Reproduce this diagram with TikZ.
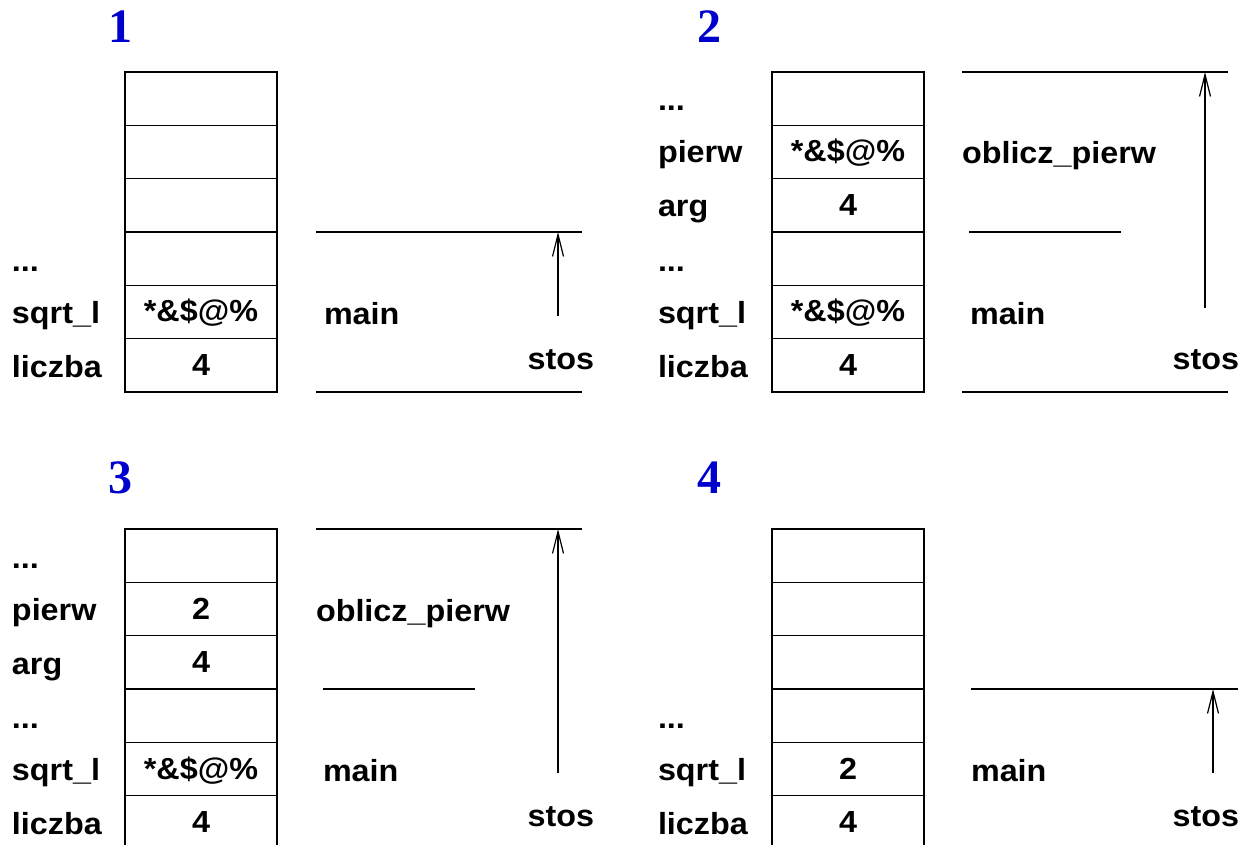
\documentclass[tikz,border=0pt]{standalone}
\usepackage{fontspec}
\setmainfont[FakeStretch=1.06]{Liberation Sans}
\newfontfamily\numfont{Liberation Serif}
\usetikzlibrary{arrows.meta}
\definecolor{numblue}{RGB}{0,0,204}
\tikzset{
  every node/.style={inner sep=0pt, outer sep=0pt},
  txt/.style={font=\fontsize{30.5}{36}\selectfont\bfseries},
  cell/.style={txt, draw, line width=1.2pt, minimum width=152pt, minimum height=53.33pt, text height=20pt, text depth=0pt, anchor=center},
  lbl/.style={txt, anchor=base west},
  rlbl/.style={txt, anchor=base east},
  num/.style={font=\numfont\fontsize{48}{50}\selectfont\bfseries, text=numblue, anchor=base},
  hline/.style={line width=1.2pt},
  sp/.style={line width=1.2pt, -{Straight Barb[length=22pt,width=11pt,line width=1.2pt]}}
}
\begin{document}
\begin{tikzpicture}[x=1pt,y=-1pt]
\useasboundingbox (0,0) rectangle (1242,845);
\clip (0,0) rectangle (1242,845);
% ---------- Panel 1 ----------
\node[num] (n1) at (120,43) {1};
\foreach \i/\v in {1/{},2/{},3/{},4/{},5/{*\&\$@\%},6/{4}}
  \node[cell] (a\i) at (201,{72+(\i-0.5)*53.333}) {\v};
\node[lbl] (al4) at (12,271) {...};
\node[lbl] (al5) at (12,323) {sqrt\_l};
\node[lbl] (al6) at (12,377) {liczba};
\node[lbl] (am) at (324,324) {main};
\node[rlbl] (as) at (594,369) {stos};
\coordinate (aL1) at (316,232); \coordinate (aR1) at (582,232);
\coordinate (aL2) at (316,392); \coordinate (aR2) at (582,392);
\draw[hline] (aL1) -- (aR1);
\draw[hline] (aL2) -- (aR2);
\coordinate (aA0) at (558,316); \coordinate (aA1) at (558,232);
\draw[sp] (aA0) -- (aA1);
% ---------- Panel 2 ----------
\node[num] (n2) at (709,43) {2};
\foreach \i/\v in {1/{},2/{*\&\$@\%},3/{4},4/{},5/{*\&\$@\%},6/{4}}
  \node[cell] (b\i) at (848,{72+(\i-0.5)*53.333}) {\v};
\node[lbl] (bl1) at (658,111) {...};
\node[lbl] (bl2) at (658,163) {pierw};
\node[lbl] (bl3) at (658,217) {arg};
\node[lbl] (bl4) at (658,271) {...};
\node[lbl] (bl5) at (658,323) {sqrt\_l};
\node[lbl] (bl6) at (658,377) {liczba};
\node[lbl] (bo) at (962,164) {oblicz\_pierw};
\node[lbl] (bm) at (970,324) {main};
\node[rlbl] (bs) at (1239,369) {stos};
\coordinate (bL1) at (962,72); \coordinate (bR1) at (1228,72);
\coordinate (bL2) at (969,232); \coordinate (bR2) at (1121,232);
\coordinate (bL3) at (962,392); \coordinate (bR3) at (1228,392);
\draw[hline] (bL1) -- (bR1);
\draw[hline] (bL2) -- (bR2);
\draw[hline] (bL3) -- (bR3);
\coordinate (bA0) at (1205,308); \coordinate (bA1) at (1205,72);
\draw[sp] (bA0) -- (bA1);
% ---------- Panel 3 ----------
\node[num] (n3) at (120,493) {3};
\foreach \i/\v in {1/{},2/{2},3/{4},4/{},5/{*\&\$@\%},6/{4}}
  \node[cell] (c\i) at (201,{529+(\i-0.5)*53.333}) {\v};
\node[lbl] (cl1) at (12,568) {...};
\node[lbl] (cl2) at (12,620) {pierw};
\node[lbl] (cl3) at (12,674) {arg};
\node[lbl] (cl4) at (12,728) {...};
\node[lbl] (cl5) at (12,780) {sqrt\_l};
\node[lbl] (cl6) at (12,834) {liczba};
\node[lbl] (co) at (316,621) {oblicz\_pierw};
\node[lbl] (cm) at (323,781) {main};
\node[rlbl] (cs) at (594,826) {stos};
\coordinate (cL1) at (316,529); \coordinate (cR1) at (582,529);
\coordinate (cL2) at (323,689); \coordinate (cR2) at (475,689);
\draw[hline] (cL1) -- (cR1);
\draw[hline] (cL2) -- (cR2);
\coordinate (cA0) at (558,773); \coordinate (cA1) at (558,529);
\draw[sp] (cA0) -- (cA1);
% ---------- Panel 4 ----------
\node[num] (n4) at (709,493) {4};
\foreach \i/\v in {1/{},2/{},3/{},4/{},5/{2},6/{4}}
  \node[cell] (d\i) at (848,{529+(\i-0.5)*53.333}) {\v};
\node[lbl] (dl4) at (658,728) {...};
\node[lbl] (dl5) at (658,780) {sqrt\_l};
\node[lbl] (dl6) at (658,834) {liczba};
\node[lbl] (dm) at (971,781) {main};
\node[rlbl] (ds) at (1239,826) {stos};
\coordinate (dL1) at (971,689); \coordinate (dR1) at (1238,689);
\draw[hline] (dL1) -- (dR1);
\coordinate (dA0) at (1213,773); \coordinate (dA1) at (1213,689);
\draw[sp] (dA0) -- (dA1);
\end{tikzpicture}
\end{document}
